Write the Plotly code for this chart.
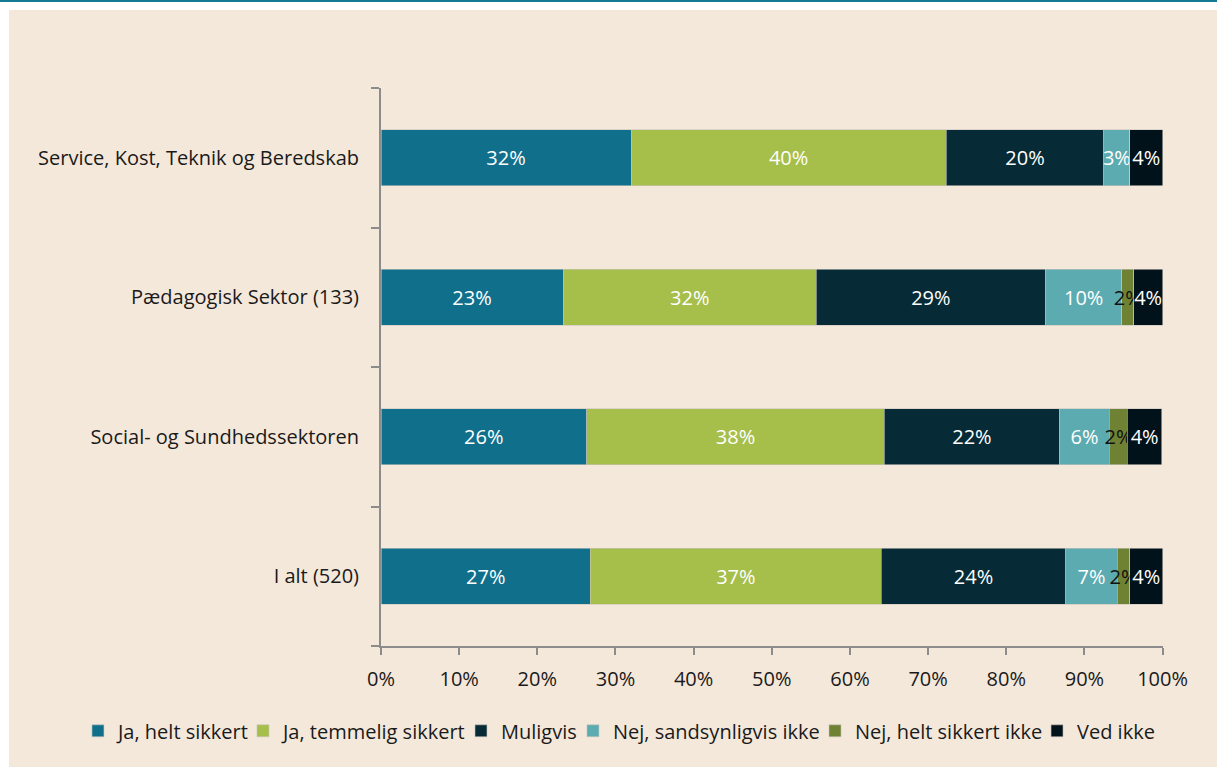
import plotly.graph_objects as go

# Categories, bottom to top (plotly draws the first category at the bottom)
categories = [
    "I alt (520)",
    "Social- og Sundhedssektoren",
    "Pædagogisk Sektor (133)",
    "Service, Kost, Teknik og Beredskab",
]

# Share of answers in percent, same order as categories
ja_helt = [26.8, 26.3, 23.3, 32.0]
ja_temmelig = [37.2, 38.1, 32.4, 40.3]
muligvis = [23.6, 22.4, 29.3, 20.2]
nej_sandsynligvis = [6.6, 6.4, 9.8, 3.3]
nej_helt = [1.6, 2.3, 1.5, 0.0]
ved_ikke = [4.2, 4.4, 3.7, 4.2]

series = [
    ("Ja, helt sikkert", ja_helt, "#10708C", "white"),
    ("Ja, temmelig sikkert", ja_temmelig, "#A6BE4A", "white"),
    ("Muligvis", muligvis, "#062B36", "white"),
    ("Nej, sandsynligvis ikke", nej_sandsynligvis, "#5CABB1", "white"),
    ("Nej, helt sikkert ikke", nej_helt, "#6F8233", "#111111"),
    ("Ved ikke", ved_ikke, "#02121A", "white"),
]

# left edge of each legend entry (paper coords), one legend per series
legend_x = [-0.3875, -0.1765, 0.1023, 0.2455, 0.5550, 0.8389]

BG = "#F4E8DB"
FONT = "Open Sans, Noto Sans, sans-serif"

fig = go.Figure()

for i, (name, values, color, text_color) in enumerate(series):
    fig.add_trace(go.Bar(
        name=name,
        y=categories,
        x=values,
        orientation="h",
        marker=dict(color=color, line=dict(color="#c9c4bd", width=0.6)),
        text=[f"{round(v)}%" if v > 0 else "" for v in values],
        textposition="inside",
        insidetextanchor="middle",
        textangle=0,
        constraintext="none",
        textfont=dict(color=text_color, size=20, family=FONT),
        cliponaxis=False,
        legend="legend" if i == 0 else f"legend{i + 1}",
    ))

legends = {}
for i, lx in enumerate(legend_x):
    key = "legend" if i == 0 else f"legend{i + 1}"
    legends[key] = dict(
        orientation="h",
        x=lx, xanchor="left",
        y=-0.152, yanchor="middle",
        font=dict(size=20),
        itemwidth=30,
        bgcolor="rgba(0,0,0,0)",
    )

fig.update_layout(
    barmode="stack",
    bargap=0.6,
    width=1217,
    height=767,
    margin=dict(l=381, r=54, t=88, b=121),
    paper_bgcolor="white",
    plot_bgcolor="rgba(0,0,0,0)",
    font=dict(family=FONT, size=20, color="#1a1a1a"),
    showlegend=True,
    shapes=[
        # beige panel
        dict(type="rect", xref="paper", yref="paper",
             x0=-0.4757, x1=1.1, y0=-0.25, y1=1.1398,
             fillcolor=BG, line=dict(width=0), layer="below"),
        # teal rule at the top
        dict(type="rect", xref="paper", yref="paper",
             x0=-0.5, x1=1.1, y0=1.1541, y1=1.17,
             fillcolor="#137A93", line=dict(width=0), layer="below"),
    ],
    **legends,
)

fig.update_xaxes(
    range=[0, 100.05],
    tick0=0,
    dtick=10,
    ticksuffix="%",
    showgrid=False,
    zeroline=False,
    showline=True,
    linecolor="#8c8c8c",
    linewidth=2,
    ticks="outside",
    ticklen=7,
    tickwidth=1.5,
    tickcolor="#8c8c8c",
    ticklabelstandoff=7,
    tickfont=dict(size=20),
)

fig.update_yaxes(
    showgrid=False,
    zeroline=False,
    showline=True,
    linecolor="#8c8c8c",
    linewidth=2,
    ticks="outside",
    ticklen=8,
    tickwidth=1.5,
    tickcolor="#8c8c8c",
    tickson="boundaries",
    ticklabelstandoff=16,
    tickfont=dict(size=20),
)

fig.write_html(
    "out.html",
    config={"displayModeBar": False},
    post_script="document.body.style.margin='0px';",
)
